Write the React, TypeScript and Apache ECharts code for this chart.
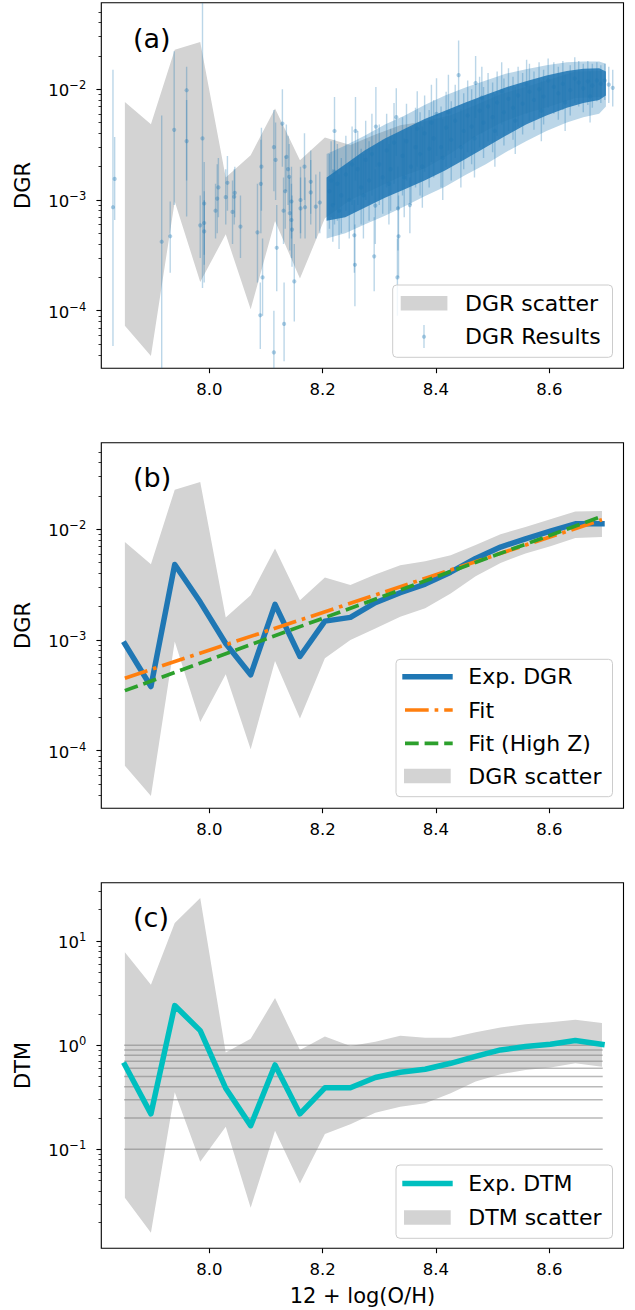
import React, { useEffect, useRef } from 'react';
import * as echarts from 'echarts';

// ---------- data ----------
const binX = [7.851, 7.897, 7.939, 7.984, 8.029, 8.073, 8.116, 8.160, 8.204, 8.249, 8.293, 8.337, 8.381, 8.426, 8.470, 8.514, 8.558, 8.602, 8.646, 8.693];

const dgrExp = [9.2e-4, 3.8e-4, 4.8e-3, 2.2e-3, 9.3e-4, 4.85e-4, 2.1e-3, 7.1e-4, 1.48e-3, 1.6e-3, 2.17e-3, 2.67e-3, 3.2e-3, 4.1e-3, 5.45e-3, 6.9e-3, 8.2e-3, 9.6e-3, 1.12e-2, 1.12e-2];
const dgrScatterLo = [7.3e-5, 3.9e-5, 9.7e-4, 1.82e-4, 4.9e-4, 1.03e-4, 6.46e-4, 1.95e-4, 6.84e-4, 1.0e-3, 1.27e-3, 1.62e-3, 1.93e-3, 2.63e-3, 3.77e-3, 4.97e-3, 6.04e-3, 7.03e-3, 8.35e-3, 8.5e-3];
const dgrScatterHi = [7.68e-3, 4.84e-3, 2.28e-2, 2.67e-2, 1.6e-3, 2.54e-3, 6.7e-3, 2.29e-3, 3.67e-3, 3.13e-3, 3.9e-3, 4.74e-3, 5.15e-3, 5.83e-3, 7.2e-3, 9.0e-3, 1.05e-2, 1.23e-2, 1.45e-2, 1.46e-2];

const dtmExp = [0.646, 0.219, 2.40, 1.38, 0.386, 0.169, 0.646, 0.219, 0.39, 0.39, 0.49, 0.55, 0.587, 0.67, 0.78, 0.90, 0.97, 1.02, 1.11, 1.02];
const dtmScatterLo = [0.0343, 0.0158, 0.353, 0.076, 0.165, 0.0275, 0.151, 0.047, 0.14, 0.174, 0.225, 0.257, 0.277, 0.346, 0.447, 0.526, 0.579, 0.61, 0.67, 0.62];
const dtmScatterHi = [7.8, 3.8, 14.9, 25.9, 0.85, 1.15, 2.83, 0.90, 1.21, 0.98, 1.08, 1.23, 1.18, 1.18, 1.33, 1.48, 1.59, 1.66, 1.75, 1.63];

const fitX = [7.851, 8.693];
const fitAll = [4.52e-4, 1.22e-2];
const fitHighZ = [3.49e-4, 1.31e-2];

const dtmRefLevels = [0.1, 0.2, 0.3, 0.4, 0.5, 0.6, 0.7, 0.8, 0.9, 1.0];
const dtmRefX = [7.851, 8.693];

// individual DGR results: [12+log(O/H), DGR, lower error, upper error]
const dgrPoints = [
  [7.830, 8.6e-4, 4.8e-5, 1.5e-2], [7.833, 1.55e-3, 6.6e-4, 3.7e-3], [7.916, 4.2e-4, 2.0e-5, 5.8e-3],
  [7.931, 4.7e-4, 2.2e-4, 9.7e-4], [7.938, 4.3e-3, 9.0e-4, 2.2e-2], [7.960, 9.8e-3, 7.1e-4, 1.6e-2],
  [7.960, 3.4e-3, 1.5e-3, 8.0e-3], [7.988, 3.6e-3, 1.6e-4, 6.0e-2], [7.984, 5.9e-4, 3.0e-4, 1.1e-3],
  [7.991, 9.3e-4, 1.8e-4, 2.2e-3], [7.991, 6.2e-4, 3.2e-4, 1.2e-3], [7.991, 5.2e-4, 2.6e-4, 1.0e-3],
  [8.011, 8.0e-4, 4.5e-4, 1.4e-3], [8.014, 1.03e-3, 5.0e-4, 2.1e-3], [8.016, 1.3e-3, 7.0e-4, 2.4e-3],
  [8.029, 1.06e-3, 6.0e-4, 1.9e-3], [8.032, 1.43e-3, 8.0e-4, 2.5e-3], [8.041, 7.8e-4, 4.0e-4, 1.5e-3],
  [8.044, 1.07e-3, 6.0e-4, 1.9e-3], [8.045, 1.16e-3, 7.0e-4, 2.0e-3], [8.055, 5.75e-4, 3.0e-4, 1.1e-3],
  [8.085, 5.1e-4, 1.8e-4, 1.4e-3], [8.090, 9.1e-5, 4.5e-5, 1.8e-4], [8.091, 1.4e-3, 5.0e-4, 3.5e-3],
  [8.092, 2.0e-3, 8.0e-4, 4.5e-3], [8.094, 2.0e-4, 9.0e-5, 4.5e-4], [8.114, 4.2e-5, 2.0e-5, 1.0e-4],
  [8.114, 3.0e-3, 1.2e-3, 6.5e-3], [8.117, 2.3e-3, 1.0e-3, 5.0e-3], [8.119, 3.7e-4, 1.5e-4, 9.0e-4],
  [8.129, 4.9e-3, 2.0e-3, 1.0e-2], [8.131, 8.0e-4, 4.0e-4, 1.6e-3], [8.132, 7.6e-5, 3.5e-5, 1.8e-4],
  [8.134, 1.2e-3, 5.5e-4, 2.5e-3], [8.136, 2.45e-3, 1.2e-3, 4.8e-3], [8.139, 1.9e-3, 9.0e-4, 3.8e-3],
  [8.141, 1.62e-3, 8.0e-4, 3.2e-3], [8.142, 7.6e-4, 3.5e-4, 1.6e-3], [8.145, 9.7e-4, 4.5e-4, 2.0e-3],
  [8.145, 6.6e-4, 3.0e-4, 1.4e-3], [8.146, 5.4e-4, 2.5e-4, 1.1e-3], [8.150, 1.84e-4, 8.0e-5, 4.0e-4],
  [8.161, 1.0e-3, 5.0e-4, 2.0e-3], [8.161, 8.4e-4, 4.5e-4, 1.6e-3], [8.168, 2.0e-3, 1.0e-3, 4.0e-3],
  [8.169, 8.6e-4, 4.5e-4, 1.6e-3], [8.179, 1.46e-3, 7.5e-4, 2.8e-3], [8.179, 1.17e-3, 6.0e-4, 2.3e-3],
  [8.188, 8.7e-4, 4.5e-4, 1.7e-3], [8.195, 9.5e-4, 5.0e-4, 1.8e-3],
  [8.221, 4.2e-3, 6.0e-4, 8.5e-3], [8.221, 1.8e-3, 9.0e-4, 3.5e-3], [8.256, 4.8e-4, 2.2e-4, 1.0e-3],
  [8.257, 2.6e-4, 1.1e-4, 6.0e-4], [8.258, 4.2e-3, 1.5e-3, 8.5e-3], [8.291, 3.1e-4, 1.5e-4, 7.0e-4],
  [8.293, 8.9e-4, 4.0e-4, 1.9e-3], [8.294, 4.6e-3, 2.0e-3, 1.05e-2], [8.333, 8.4e-4, 3.5e-4, 2.0e-3],
  [8.334, 4.7e-4, 2.0e-4, 1.1e-3], [8.332, 2.0e-4, 9.0e-5, 4.5e-4], [8.330, 5.6e-3, 2.5e-3, 1.02e-2],
  [8.354, 9.0e-4, 5.0e-4, 1.6e-3], [8.401, 6.0e-3, 2.5e-3, 1.26e-2], [8.440, 1.34e-2, 6.9e-3, 2.76e-2],
  [8.470, 1.14e-2, 5.5e-3, 2.0e-2], [8.705, 1.1e-2, 7.5e-3, 1.6e-2], [8.712, 1.03e-2, 7.0e-3, 1.5e-2],
  [8.698, 1.2e-2, 8.0e-3, 1.7e-2],
  // inside the dense cloud
  [8.212, 1.2e-3, 5.5e-4, 2.6e-3], [8.218, 9.0e-4, 4.2e-4, 1.9e-3], [8.226, 1.4e-3, 6.5e-4, 3.2e-3],
  [8.233, 1.1e-3, 5.0e-4, 2.4e-3], [8.241, 1.7e-3, 8.0e-4, 3.8e-3], [8.247, 1.0e-3, 4.5e-4, 2.2e-3],
  [8.262, 1.9e-3, 9.0e-4, 4.2e-3], [8.268, 1.3e-3, 6.0e-4, 2.9e-3], [8.276, 2.3e-3, 1.0e-3, 5.2e-3],
  [8.282, 1.5e-3, 6.5e-4, 3.4e-3], [8.300, 2.1e-3, 9.0e-4, 4.8e-3], [8.306, 1.6e-3, 7.5e-4, 3.5e-3],
  [8.313, 2.8e-3, 1.3e-3, 6.0e-3], [8.320, 1.9e-3, 8.0e-4, 4.4e-3], [8.341, 2.5e-3, 1.1e-3, 5.6e-3],
  [8.348, 3.4e-3, 1.5e-3, 7.4e-3], [8.356, 2.0e-3, 9.0e-4, 4.5e-3], [8.364, 3.0e-3, 1.3e-3, 6.8e-3],
  [8.372, 2.6e-3, 1.1e-3, 6.2e-3], [8.380, 4.0e-3, 1.8e-3, 8.8e-3], [8.388, 2.9e-3, 1.3e-3, 6.5e-3],
  [8.396, 3.6e-3, 1.6e-3, 8.0e-3], [8.409, 3.0e-3, 1.3e-3, 7.0e-3], [8.418, 4.5e-3, 2.0e-3, 9.5e-3],
  [8.427, 3.5e-3, 1.5e-3, 7.8e-3], [8.434, 5.2e-3, 2.4e-3, 1.1e-2], [8.449, 4.2e-3, 1.9e-3, 9.2e-3],
  [8.456, 5.8e-3, 2.7e-3, 1.2e-2], [8.463, 4.6e-3, 2.1e-3, 1.0e-2], [8.477, 6.4e-3, 3.0e-3, 1.3e-2],
  [8.484, 5.0e-3, 2.4e-3, 1.05e-2], [8.492, 7.0e-3, 3.4e-3, 1.4e-2], [8.500, 5.6e-3, 2.7e-3, 1.15e-2],
  [8.508, 7.6e-3, 3.8e-3, 1.45e-2], [8.520, 6.2e-3, 3.1e-3, 1.25e-2], [8.528, 8.2e-3, 4.2e-3, 1.55e-2],
  [8.536, 6.8e-3, 3.5e-3, 1.3e-2], [8.545, 8.8e-3, 4.6e-3, 1.6e-2], [8.553, 7.4e-3, 3.9e-3, 1.4e-2],
  [8.565, 9.5e-3, 5.2e-3, 1.7e-2], [8.573, 8.0e-3, 4.3e-3, 1.45e-2], [8.582, 1.0e-2, 5.6e-3, 1.75e-2],
  [8.590, 8.6e-3, 4.8e-3, 1.5e-2], [8.608, 1.05e-2, 6.0e-3, 1.75e-2], [8.616, 9.2e-3, 5.3e-3, 1.6e-2],
  [8.624, 1.12e-2, 6.5e-3, 1.8e-2], [8.637, 9.8e-3, 5.8e-3, 1.65e-2], [8.652, 1.15e-2, 7.0e-3, 1.8e-2],
  [8.660, 1.02e-2, 6.2e-3, 1.7e-2], [8.668, 1.18e-2, 7.2e-3, 1.8e-2], [8.676, 1.08e-2, 6.8e-3, 1.7e-2],
  [8.684, 1.2e-2, 7.8e-3, 1.75e-2], [8.691, 1.12e-2, 7.5e-3, 1.65e-2],
  [8.215, 1.5e-3, 7.0e-4, 3.4e-3], [8.229, 8.0e-4, 3.6e-4, 1.7e-3], [8.252, 2.1e-3, 9.0e-4, 4.6e-3],
  [8.272, 1.1e-3, 4.5e-4, 2.6e-3], [8.287, 2.6e-3, 1.1e-3, 6.0e-3], [8.317, 1.4e-3, 6.0e-4, 3.2e-3],
  [8.326, 3.3e-3, 1.4e-3, 7.5e-3], [8.344, 1.6e-3, 7.0e-4, 3.6e-3], [8.367, 4.4e-3, 2.0e-3, 9.6e-3],
  [8.376, 2.0e-3, 8.5e-4, 4.6e-3], [8.392, 5.0e-3, 2.2e-3, 1.1e-2], [8.412, 2.4e-3, 1.0e-3, 5.4e-3],
  [8.422, 6.2e-3, 2.8e-3, 1.35e-2], [8.444, 3.0e-3, 1.3e-3, 6.6e-3], [8.468, 3.6e-3, 1.6e-3, 8.0e-3],
  [8.481, 8.4e-3, 4.0e-3, 1.6e-2], [8.504, 4.2e-3, 2.0e-3, 9.0e-3], [8.516, 9.6e-3, 4.8e-3, 1.75e-2],
  [8.540, 5.2e-3, 2.6e-3, 1.05e-2], [8.560, 1.1e-2, 6.0e-3, 1.85e-2], [8.586, 6.4e-3, 3.4e-3, 1.2e-2],
  [8.598, 1.2e-2, 6.8e-3, 1.9e-2], [8.628, 7.6e-3, 4.2e-3, 1.35e-2], [8.645, 1.25e-2, 7.5e-3, 1.95e-2],
  [8.672, 8.6e-3, 5.0e-3, 1.45e-2],
];

// envelope of the dense cloud of DGR results at high metallicity
const cloudX = [8.207, 8.24, 8.274, 8.31, 8.345, 8.38, 8.416, 8.452, 8.488, 8.523, 8.559, 8.595, 8.631, 8.66, 8.688, 8.700];
const cloudCoreHi = [1.6e-3, 2.1e-3, 2.8e-3, 3.6e-3, 4.4e-3, 5.4e-3, 6.4e-3, 7.6e-3, 8.9e-3, 1.04e-2, 1.18e-2, 1.33e-2, 1.46e-2, 1.53e-2, 1.55e-2, 1.45e-2];
const cloudCoreLo = [6.5e-4, 7.0e-4, 8.5e-4, 1.05e-3, 1.25e-3, 1.5e-3, 1.85e-3, 2.35e-3, 3.0e-3, 3.8e-3, 4.8e-3, 5.8e-3, 6.8e-3, 7.5e-3, 8.0e-3, 8.8e-3];
const cloudErrHi = [2.6e-3, 3.1e-3, 3.8e-3, 4.8e-3, 5.8e-3, 7.2e-3, 8.8e-3, 1.04e-2, 1.2e-2, 1.38e-2, 1.52e-2, 1.65e-2, 1.75e-2, 1.78e-2, 1.78e-2, 1.7e-2];
const cloudErrLo = [4.5e-4, 5.0e-4, 6.0e-4, 7.2e-4, 8.8e-4, 1.08e-3, 1.32e-3, 1.68e-3, 2.1e-3, 2.7e-3, 3.4e-3, 4.2e-3, 5.0e-3, 5.6e-3, 6.0e-3, 7.0e-3];

// ticks
const xTicks = [8.0, 8.2, 8.4, 8.6];
const dgrMajor = [1e-4, 1e-3, 1e-2];
const dgrMinor = [4e-5, 5e-5, 6e-5, 7e-5, 8e-5, 9e-5, 2e-4, 3e-4, 4e-4, 5e-4, 6e-4, 7e-4, 8e-4, 9e-4,
  2e-3, 3e-3, 4e-3, 5e-3, 6e-3, 7e-3, 8e-3, 9e-3, 2e-2, 3e-2, 4e-2, 5e-2];
const dtmMajor = [0.1, 1, 10];
const dtmMinor = [0.02, 0.03, 0.04, 0.05, 0.06, 0.07, 0.08, 0.09, 0.2, 0.3, 0.4, 0.5, 0.6, 0.7, 0.8, 0.9,
  2, 3, 4, 5, 6, 7, 8, 9, 20, 30];

// ---------- layout / style ----------
const FONT = "'DejaVu Sans', sans-serif";
const X_MIN = 7.8094, X_MAX = 8.731;
const DGR_MIN = 3.02e-5, DGR_MAX = 0.0605;
const DTM_MIN = 0.01122, DTM_MAX = 36.3;
const GRID_LEFT = 101.3, GRID_W = 522.2, GRID_H = 365.6;
const GRID_TOPS = [2.7, 442.7, 882.7];
const BLUE = '#1f77b4', ORANGE = '#ff7f0e', GREEN = '#2ca02c', CYAN = '#00bfbf', BAND = '#d3d3d3';
const TICK_FS = 16.5, LEG_FS = 22, NAME_FS = 21;
const ERR_STROKE = 'rgba(31,119,180,0.3)', ERR_DOT = 'rgba(31,119,180,0.35)';

function supLabel(v: number) {
  const e = Math.round(Math.log10(v));
  const s = e < 0 ? '\u2212' + Math.abs(e) : String(e);
  return `{b|10}{s|${s}}`;
}

const yRich = {
  b: { fontSize: TICK_FS, fontFamily: FONT, color: '#000', lineHeight: 20, verticalAlign: 'bottom' },
  s: { fontSize: 11.5, fontFamily: FONT, color: '#000', lineHeight: 9, verticalAlign: 'top' },
};

function bandSeries(xs: number[], lo: number[], hi: number[], gi: number, fill: string, z: number) {
  return {
    type: 'custom',
    xAxisIndex: gi,
    yAxisIndex: gi * 2,
    clip: true,
    z,
    silent: true,
    data: [[xs[0], lo[0]]],
    renderItem: (params: any, api: any) => {
      const pts: number[][] = [];
      for (let i = 0; i < xs.length; i++) pts.push(api.coord([xs[i], hi[i]]));
      for (let i = xs.length - 1; i >= 0; i--) pts.push(api.coord([xs[i], lo[i]]));
      return { type: 'polygon', shape: { points: pts }, style: { fill, stroke: 'none' } };
    },
  };
}

function lineSeries(xs: number[], ys: number[], gi: number, color: string, width: number, dash: any, z: number) {
  return {
    type: 'line',
    xAxisIndex: gi,
    yAxisIndex: gi * 2,
    data: xs.map((x, i) => [x, ys[i]]),
    symbol: 'none',
    showSymbol: false,
    z,
    silent: true,
    lineStyle: { color, width, type: dash, cap: dash === 'solid' ? 'square' : 'butt', join: 'round' },
  };
}

function legendBox(x: number, y: number, w: number, h: number) {
  return {
    type: 'rect', z: 100,
    shape: { x, y, width: w, height: h, r: 4 },
    style: { fill: 'rgba(255,255,255,0.8)', stroke: '#cccccc', lineWidth: 1 },
  };
}
function legendText(x: number, y: number, text: string) {
  return {
    type: 'text', z: 101, x, y,
    style: { text, fontSize: LEG_FS, fontFamily: FONT, fill: '#000', align: 'left', verticalAlign: 'middle' },
  };
}
function legendLine(x1: number, x2: number, y: number, stroke: string, lineWidth: number, lineDash?: number[]) {
  return {
    type: 'line', z: 101,
    shape: { x1, y1: y, x2, y2: y },
    style: { stroke, lineWidth, lineDash: lineDash || null, lineCap: 'butt' },
  };
}
function legendPatch(x: number, y: number) {
  return { type: 'rect', z: 101, shape: { x, y: y - 7.3, width: 46.7, height: 14.6 }, style: { fill: BAND } };
}

export default function App() {
  const ref = useRef<HTMLDivElement>(null);
  useEffect(() => {
    if (!ref.current) return;
    const chart = echarts.init(ref.current, null, { renderer: 'svg' });

    const grids = GRID_TOPS.map((top) => ({
      left: GRID_LEFT, top, width: GRID_W, height: GRID_H,
      show: true, borderColor: '#000', borderWidth: 1.1, backgroundColor: 'transparent',
      containLabel: false, outerBoundsMode: 'none',
    }));

    const xAxes = [0, 1, 2].map((gi) => ({
      type: 'value', gridIndex: gi, min: X_MIN, max: X_MAX,
      axisLine: { show: false, onZero: false },
      splitLine: { show: false },
      axisTick: { show: true, customValues: xTicks, length: 4.9, lineStyle: { color: '#000', width: 1.1 } },
      axisLabel: {
        customValues: xTicks, formatter: (v: number) => v.toFixed(1),
        fontSize: TICK_FS, fontFamily: FONT, color: '#000', margin: 13,
      },
      name: gi === 2 ? '12 + log(O/H)' : '',
      nameLocation: 'middle', nameGap: 37,
      nameTextStyle: { fontSize: NAME_FS, fontFamily: FONT, color: '#000' },
    }));

    const yAxes: any[] = [];
    [0, 1, 2].forEach((gi) => {
      const isDtm = gi === 2;
      const min = isDtm ? DTM_MIN : DGR_MIN;
      const max = isDtm ? DTM_MAX : DGR_MAX;
      yAxes.push({
        type: 'log', gridIndex: gi, min, max, position: 'left',
        axisLine: { show: false, onZero: false },
        splitLine: { show: false }, minorTick: { show: false }, minorSplitLine: { show: false },
        axisTick: { show: true, customValues: isDtm ? dtmMajor : dgrMajor, length: 4.9, lineStyle: { color: '#000', width: 1.1 } },
        axisLabel: { customValues: isDtm ? dtmMajor : dgrMajor, formatter: supLabel, rich: yRich, margin: 15 },
        name: isDtm ? 'DTM' : 'DGR',
        nameLocation: 'middle', nameGap: 68, nameRotate: 90,
        nameTextStyle: { fontSize: NAME_FS, fontFamily: FONT, color: '#000' },
      });
      yAxes.push({
        type: 'log', gridIndex: gi, min, max, position: 'left',
        axisLine: { show: false, onZero: false },
        splitLine: { show: false }, minorTick: { show: false },
        axisTick: { show: true, customValues: isDtm ? dtmMinor : dgrMinor, length: 2.8, lineStyle: { color: '#000', width: 0.8 } },
        axisLabel: { show: false },
      });
    });

    const series: any[] = [];
    // Panel (a)
    series.push(bandSeries(binX, dgrScatterLo, dgrScatterHi, 0, BAND, 1));
    series.push(bandSeries(cloudX, cloudErrLo, cloudErrHi, 0, 'rgba(31,119,180,0.3)', 2));
    series.push(bandSeries(cloudX, cloudCoreLo, cloudCoreHi, 0, 'rgba(31,119,180,0.86)', 3));
    series.push({
      type: 'custom', xAxisIndex: 0, yAxisIndex: 0, clip: true, z: 4, silent: true,
      data: dgrPoints,
      encode: { x: 0, y: 1 },
      renderItem: (params: any, api: any) => {
        const p = api.coord([api.value(0), api.value(1)]);
        const pl = api.coord([api.value(0), api.value(2)]);
        const ph = api.coord([api.value(0), api.value(3)]);
        return {
          type: 'group',
          children: [
            { type: 'line', shape: { x1: p[0], y1: pl[1], x2: p[0], y2: ph[1] }, style: { stroke: ERR_STROKE, lineWidth: 1.4 } },
            { type: 'circle', shape: { cx: p[0], cy: p[1], r: 2.1 }, style: { fill: ERR_DOT } },
          ],
        };
      },
    });

    // Panel (b)
    series.push(bandSeries(binX, dgrScatterLo, dgrScatterHi, 1, BAND, 1));
    series.push(lineSeries(binX, dgrExp, 1, BLUE, 5.5, 'solid', 3));
    series.push(lineSeries(fitX, fitAll, 1, ORANGE, 3.7, [23.7, 5.9, 3.7, 5.9], 4));
    series.push(lineSeries(fitX, fitHighZ, 1, GREEN, 3.7, [13.7, 5.9], 5));

    // Panel (c)
    series.push(bandSeries(binX, dtmScatterLo, dtmScatterHi, 2, BAND, 1));
    dtmRefLevels.forEach((lv) => {
      series.push(lineSeries(dtmRefX, [lv, lv], 2, 'rgba(128,128,128,0.55)', 1.5, 'solid', 2));
    });
    series.push(lineSeries(binX, dtmExp, 2, CYAN, 5.5, 'solid', 3));

    const graphic: any[] = [
      // panel tags
      { type: 'text', x: 133, y: 38, z: 50, style: { text: '(a)', fontSize: 27, fontFamily: FONT, fill: '#000', verticalAlign: 'middle' } },
      { type: 'text', x: 133, y: 477.5, z: 50, style: { text: '(b)', fontSize: 27, fontFamily: FONT, fill: '#000', verticalAlign: 'middle' } },
      { type: 'text', x: 133, y: 917.5, z: 50, style: { text: '(c)', fontSize: 27, fontFamily: FONT, fill: '#000', verticalAlign: 'middle' } },
      // legend (a)
      legendBox(392.7, 285, 219.8, 72.3),
      legendPatch(400.7, 303.3),
      legendText(465, 303.3, 'DGR scatter'),
      { type: 'line', z: 101, shape: { x1: 424, y1: 325, x2: 424, y2: 348 }, style: { stroke: ERR_STROKE, lineWidth: 1.4 } },
      { type: 'circle', z: 101, shape: { cx: 424, cy: 336.7, r: 2.1 }, style: { fill: ERR_DOT } },
      legendText(465, 336.7, 'DGR Results'),
      // legend (b)
      legendBox(396, 659.3, 216.5, 137.4),
      legendLine(402.3, 452.7, 676.7, BLUE, 5.5),
      legendText(468.3, 676.7, 'Exp. DGR'),
      legendLine(405, 452.7, 710, ORANGE, 3.7, [23.7, 5.9, 3.7, 5.9]),
      legendText(468.3, 710, 'Fit'),
      legendLine(405, 452.7, 743.3, GREEN, 3.7, [13.7, 5.9]),
      legendText(468.3, 743.3, 'Fit (High Z)'),
      legendPatch(404, 776),
      legendText(468.3, 776, 'DGR scatter'),
      // legend (c)
      legendBox(396, 1165, 216.5, 73.3),
      legendLine(402.3, 452.7, 1183.5, CYAN, 5.5),
      legendText(468.3, 1183.5, 'Exp. DTM'),
      legendPatch(404, 1217.5),
      legendText(468.3, 1217.5, 'DTM scatter'),
    ];

    chart.setOption({
      animation: false,
      backgroundColor: '#ffffff',
      grid: grids,
      xAxis: xAxes,
      yAxis: yAxes,
      series,
      graphic,
    });
    return () => chart.dispose();
  }, []);

  return (
    <div
      ref={ref}
      style={{ position: 'absolute', left: 0, top: 0, width: 635, height: 1310, background: '#fff' }}
    />
  );
}
